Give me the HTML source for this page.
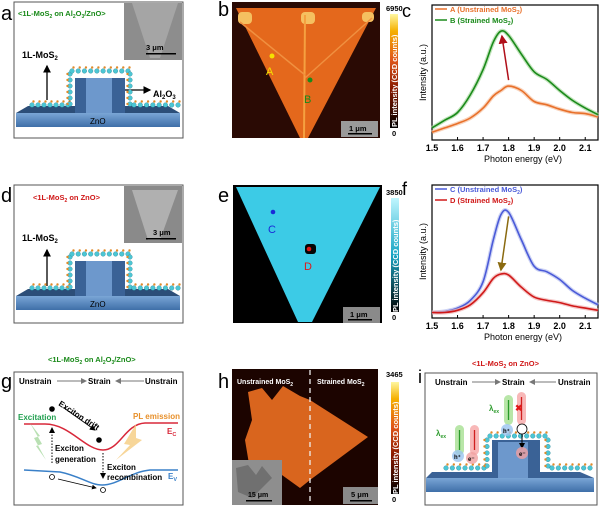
<!DOCTYPE html>
<html><head><meta charset="utf-8"><style>
body{margin:0;background:#fff}
svg{display:block;font-family:"Liberation Sans",Arial,sans-serif;font-weight:bold}
</style></head><body>
<svg id="fig" width="600" height="506" viewBox="0 0 600 506" xmlns="http://www.w3.org/2000/svg">
<defs>
<linearGradient id="cbHot" x1="0" y1="1" x2="0" y2="0"><stop offset="0" stop-color="#000"/><stop offset="0.35" stop-color="#8a1a00"/><stop offset="0.6" stop-color="#e0561a"/><stop offset="0.85" stop-color="#f5b000"/><stop offset="1" stop-color="#fff7a0"/></linearGradient>
<linearGradient id="cbCyan" x1="0" y1="1" x2="0" y2="0"><stop offset="0" stop-color="#000"/><stop offset="0.5" stop-color="#1aa6c4"/><stop offset="1" stop-color="#bff6ff"/></linearGradient>
<linearGradient id="slab" x1="0" y1="0" x2="0" y2="1"><stop offset="0" stop-color="#7aa6d6"/><stop offset="1" stop-color="#3f6fa8"/></linearGradient>
<marker id="arr" markerWidth="6" markerHeight="6" refX="5" refY="3" orient="auto"><path d="M0,0 L6,3 L0,6z" fill="#000"/></marker>
<marker id="arrg" markerWidth="6" markerHeight="6" refX="5" refY="3" orient="auto"><path d="M0,0 L6,3 L0,6z" fill="#777"/></marker>
<marker id="arrR" markerWidth="6" markerHeight="6" refX="5" refY="3" orient="auto"><path d="M0,0 L6,3 L0,6z" fill="#b0101a"/></marker>
<marker id="arrY" markerWidth="6" markerHeight="6" refX="5" refY="3" orient="auto"><path d="M0,0 L6,3 L0,6z" fill="#8a6a10"/></marker>
</defs>

<!-- Panel a -->
<text x="1" y="20" font-size="20" font-weight="normal">a</text>
<g>
<rect x="14" y="2" width="169" height="136" fill="#fff" stroke="#555" stroke-width="1"/>
<text x="18" y="16" font-size="7.5" fill="#1a8a1a">&lt;1L-MoS<tspan font-size="5" dy="2">2</tspan><tspan dy="-2"> on Al</tspan><tspan font-size="5" dy="2">2</tspan><tspan dy="-2">O</tspan><tspan font-size="5" dy="2">3</tspan><tspan dy="-2">/ZnO&gt;</tspan></text>
<rect x="124" y="3" width="58" height="57" fill="#8d8d8d"/>
<path d="M132,3 L178,3 L160,58 L150,58z" fill="#a5a5a5"/>
<text x="146" y="50" font-size="7.5">3 μm</text><rect x="146" y="53" width="30" height="1.5" fill="#000"/>
<text x="22" y="58" font-size="9">1L-MoS<tspan font-size="6" dy="2">2</tspan></text>
<line x1="47" y1="100" x2="47" y2="66" stroke="#000" stroke-width="1.3" marker-end="url(#arr)"/>
<text x="153" y="97" font-size="9">Al<tspan font-size="6" dy="2">2</tspan><tspan dy="-2">O</tspan><tspan font-size="6" dy="2">3</tspan></text>
<line x1="125" y1="90" x2="150" y2="90" stroke="#000" stroke-width="1.3" marker-end="url(#arr)"/>
<path d="M28,106 L168,106 L180,113 L16,113z" fill="#2c4e78"/>
<rect x="16" y="113" width="164" height="14" fill="url(#slab)"/>
<text x="90" y="124" font-size="8" font-weight="normal">ZnO</text>
<rect x="75" y="78" width="50" height="35" fill="#3a6296"/><rect x="86" y="78" width="26" height="35" fill="#6d98cc"/>
<g id="chainA"></g>
</g>

<!-- Panel b -->
<text x="218" y="16" font-size="20" font-weight="normal">b</text>
<g>
<rect x="232" y="2" width="148" height="136" fill="#2a0a04"/>
<path d="M236,8 L376,8 L308,138 L300,138z" fill="#e4681c"/>
<rect x="238" y="12" width="14" height="12" rx="4" fill="#f5c060"/><rect x="301" y="12" width="14" height="12" rx="4" fill="#f5c060"/><rect x="362" y="12" width="12" height="10" rx="4" fill="#f5c060"/>
<line x1="305" y1="15" x2="304" y2="138" stroke="#f5a040" stroke-width="2"/>
<line x1="240" y1="22" x2="305" y2="75" stroke="#f09040" stroke-width="1.5"/>
<line x1="372" y1="18" x2="305" y2="78" stroke="#f09040" stroke-width="1.5"/>
<circle cx="272" cy="56" r="2.5" fill="#f5e000"/><text x="266" y="75" font-size="11" fill="#f5e000" font-weight="normal">A</text>
<circle cx="310" cy="80" r="2.5" fill="#1a8a1a"/><text x="304" y="103" font-size="11" fill="#1a8a1a" font-weight="normal">B</text>
<rect x="341" y="121" width="37" height="16" fill="#9a9a9a"/><text x="349" y="131" font-size="7.5">1 μm</text><rect x="348" y="133" width="24" height="1.5" fill="#000"/>
</g>
<g>
<rect x="390" y="14" width="8" height="114" fill="url(#cbHot)"/>
<text x="386" y="11" font-size="7.5">6950</text><text x="392" y="136" font-size="7.5">0</text>
<text transform="translate(397,127) rotate(-90)" font-size="7.5" fill="#fff">PL intensity (CCD counts)</text>
</g>

<!-- Panel c -->
<text x="402" y="17" font-size="18" font-weight="normal">c</text>
<g id="chartC"></g>

<!-- Panel d -->
<text x="1" y="202" font-size="20" font-weight="normal">d</text>
<g>
<rect x="14" y="185" width="169" height="138" fill="#fff" stroke="#555" stroke-width="1"/>
<text x="33" y="200" font-size="7.5" fill="#d01818">&lt;1L-MoS<tspan font-size="5" dy="2">2</tspan><tspan dy="-2"> on ZnO&gt;</tspan></text>
<rect x="124" y="186" width="58" height="57" fill="#8a8a8a"/>
<path d="M132,190 L178,190 L160,240 L148,240z" fill="#b0b0b0"/>
<text x="153" y="235" font-size="7.5">3 μm</text><rect x="146" y="238" width="30" height="1.5" fill="#000"/>
<text x="22" y="241" font-size="9">1L-MoS<tspan font-size="6" dy="2">2</tspan></text>
<line x1="47" y1="286" x2="47" y2="250" stroke="#000" stroke-width="1.3" marker-end="url(#arr)"/>
<path d="M28,289 L168,289 L180,296 L16,296z" fill="#2c4e78"/>
<rect x="16" y="296" width="164" height="14" fill="url(#slab)"/>
<text x="90" y="307" font-size="8" font-weight="normal">ZnO</text>
<rect x="75" y="261" width="50" height="35" fill="#3a6296"/><rect x="86" y="261" width="26" height="35" fill="#6d98cc"/>
<g id="chainD"></g>
</g>

<!-- Panel e -->
<text x="218" y="202" font-size="20" font-weight="normal">e</text>
<g>
<rect x="233" y="185" width="149" height="138" fill="#000"/>
<path d="M236,187 L380,187 L312,322 L298,322z" fill="#3ccbe6"/>
<rect x="305" y="244" width="11" height="10" rx="3" fill="#050505"/>
<circle cx="273" cy="212" r="2.3" fill="#1a2ad8"/><text x="268" y="233" font-size="11" fill="#1a2ad8" font-weight="normal">C</text>
<circle cx="309" cy="249" r="2.3" fill="#e01818"/><text x="304" y="270" font-size="11" fill="#e01818" font-weight="normal">D</text>
<rect x="343" y="307" width="37" height="16" fill="#8a8a8a"/><text x="350" y="317" font-size="7.5">1 μm</text><rect x="348" y="319" width="24" height="1.5" fill="#000"/>
</g>
<g>
<rect x="391" y="198" width="8" height="114" fill="url(#cbCyan)"/>
<text x="386" y="195" font-size="7.5">3850</text><text x="392" y="320" font-size="7.5">0</text>
<text transform="translate(398,312) rotate(-90)" font-size="7.5" fill="#fff">PL intensity (CCD counts)</text>
</g>

<!-- Panel f -->
<text x="402" y="195" font-size="18" font-weight="normal">f</text>
<g id="chartF"></g>

<!-- Panel g -->
<text x="48" y="362" font-size="7.5" fill="#1a8a1a">&lt;1L-MoS<tspan font-size="5" dy="2">2</tspan><tspan dy="-2"> on Al</tspan><tspan font-size="5" dy="2">2</tspan><tspan dy="-2">O</tspan><tspan font-size="5" dy="2">3</tspan><tspan dy="-2">/ZnO&gt;</tspan></text>
<text x="1" y="388" font-size="20" font-weight="normal">g</text>
<g>
<rect x="14" y="372" width="169" height="133" fill="#fff" stroke="#555"/>
<text x="19" y="384" font-size="8">Unstrain</text><line x1="57" y1="381" x2="86" y2="381" stroke="#777" stroke-width="1" marker-end="url(#arrg)"/>
<text x="88" y="384" font-size="8">Strain</text><line x1="144" y1="381" x2="116" y2="381" stroke="#777" stroke-width="1" marker-end="url(#arrg)"/>
<text x="145" y="384" font-size="8">Unstrain</text>
<path d="M24,424 L45,424 C70,424 85,450 103,450 C120,450 125,424 145,423 L178,423" fill="none" stroke="#d8283a" stroke-width="1.5"/>
<text x="167" y="434" font-size="8" fill="#d8283a">E<tspan font-size="5.5" dy="2">C</tspan></text>
<path d="M24,470 L60,472 C80,476 90,485 102,485 C118,485 130,472 150,470 L178,470" fill="none" stroke="#3a80c8" stroke-width="1.5"/>
<text x="168" y="479" font-size="8" fill="#3a80c8">E<tspan font-size="5.5" dy="2">V</tspan></text>
<path d="M30,423 L40,436 L34,438 L46,460 L36,446 L42,444z" fill="#a8d8a0" opacity="0.8"/>
<path d="M136,424 L124,444 L130,445 L116,460 L142,440 L136,438z" fill="#f5cc80" opacity="0.8"/>
<text x="18" y="420" font-size="8" fill="#22a050">Excitation</text>
<text x="133" y="419" font-size="8" fill="#e8902a">PL emission</text>
<circle cx="52" cy="409" r="2.8" fill="#000"/><circle cx="99" cy="440" r="2.8" fill="#000"/>
<line x1="64" y1="408" x2="95" y2="430" stroke="#000" stroke-width="1" marker-end="url(#arr)"/>
<text transform="translate(58,405) rotate(33)" font-size="8">Exciton drift</text>
<line x1="52" y1="463" x2="52" y2="428" stroke="#000" stroke-dasharray="1.5,1.5" marker-end="url(#arr)"/>
<line x1="103" y1="453" x2="103" y2="478" stroke="#000" stroke-dasharray="1.5,1.5" marker-end="url(#arr)"/>
<text x="55" y="451" font-size="8">Exciton</text><text x="55" y="462" font-size="8">generation</text>
<text x="107" y="470" font-size="8">Exciton</text><text x="107" y="480" font-size="8">recombination</text>
<circle cx="52" cy="477" r="2.5" fill="#fff" stroke="#000" stroke-width="0.8"/><circle cx="103" cy="490" r="2.5" fill="#fff" stroke="#000" stroke-width="0.8"/>
<line x1="58" y1="479" x2="96" y2="488" stroke="#000" stroke-width="0.8" marker-end="url(#arr)"/>
</g>

<!-- Panel h -->
<text x="218" y="388" font-size="20" font-weight="normal">h</text>
<g>
<rect x="232" y="369" width="146" height="136" fill="#1c0400"/>
<path d="M248,392 L262,388 L272,400 L283,386 L300,396 L310,400 L368,437 L310,480 L300,488 L275,470 L262,482 L250,470 L245,440 L252,420z" fill="#d9651e"/>
<rect x="232" y="460" width="50" height="45" fill="#8e8e8e"/>
<path d="M236,468 L248,465 L256,475 L262,466 L272,478 L252,498 L238,492z" fill="#707070"/>
<text x="248" y="497" font-size="7" fill="#000">15 μm</text><rect x="246" y="500" width="26" height="1.5" fill="#000"/>
<line x1="310" y1="370" x2="310" y2="505" stroke="#eee" stroke-width="1.3" stroke-dasharray="5,4"/>
<text x="237" y="384" font-size="7" fill="#fff">Unstrained MoS<tspan font-size="5" dy="2">2</tspan></text>
<text x="317" y="384" font-size="7" fill="#fff">Strained MoS<tspan font-size="5" dy="2">2</tspan></text>
<rect x="343" y="487" width="35" height="17" fill="#8a8a8a"/><text x="351" y="497" font-size="7.5">5 μm</text><rect x="350" y="500" width="22" height="1.5" fill="#000"/>
</g>
<g>
<rect x="391" y="382" width="8" height="112" fill="url(#cbHot)"/>
<text x="386" y="377" font-size="7.5">3465</text><text x="392" y="502" font-size="7.5">0</text>
<text transform="translate(398,494) rotate(-90)" font-size="7.5" fill="#fff">PL intensity (CCD counts)</text>
</g>

<!-- Panel i -->
<text x="472" y="366" font-size="7.5" fill="#d01818">&lt;1L-MoS<tspan font-size="5" dy="2">2</tspan><tspan dy="-2"> on ZnO&gt;</tspan></text>
<text x="418" y="383" font-size="18" font-weight="normal">i</text>
<g>
<rect x="425" y="373" width="172" height="132" fill="#fff" stroke="#555"/>
<text x="435" y="385" font-size="8">Unstrain</text><line x1="472" y1="382" x2="500" y2="382" stroke="#777" marker-end="url(#arrg)"/>
<text x="502" y="385" font-size="8">Strain</text><line x1="556" y1="382" x2="530" y2="382" stroke="#777" marker-end="url(#arrg)"/>
<text x="558" y="385" font-size="8">Unstrain</text>
<path d="M432,472 L580,472 L594,478 L426,478z" fill="#3a6296"/>
<rect x="426" y="478" width="168" height="14" fill="url(#slab)"/>
<rect x="492" y="440" width="48" height="38" fill="#3a6296"/><rect x="498" y="442" width="30" height="36" fill="#6d98cc"/>
<g id="chainI"></g>
<rect x="455" y="425" width="9" height="30" rx="4.5" fill="#b8e6a8"/><line x1="459.5" y1="430" x2="459.5" y2="450" stroke="#2a9a2a" stroke-width="1.3"/>
<rect x="470" y="425" width="9" height="30" rx="4.5" fill="#f8b8b8"/><line x1="474.5" y1="450" x2="474.5" y2="430" stroke="#d02020" stroke-width="1.3"/>
<text x="436" y="436" font-size="8" fill="#2a9a2a">λ<tspan font-size="5" dy="2">ex</tspan></text>
<rect x="504" y="395" width="9" height="30" rx="4.5" fill="#b8e6a8"/><line x1="508.5" y1="400" x2="508.5" y2="420" stroke="#2a9a2a" stroke-width="1.3"/>
<rect x="517" y="392" width="9" height="33" rx="4.5" fill="#f8b8b8"/><line x1="521.5" y1="420" x2="521.5" y2="397" stroke="#d02020" stroke-width="1.3"/>
<text x="515" y="411" font-size="9" fill="#e01818">✖</text>
<text x="489" y="411" font-size="8" fill="#2a9a2a">λ<tspan font-size="5" dy="2">ex</tspan></text>
<circle cx="458" cy="456" r="6" fill="#9ac4f0" opacity="0.8"/><text x="454" y="459" font-size="6">h⁺</text>
<circle cx="472" cy="458" r="6" fill="#f0a0a0" opacity="0.8"/><text x="468" y="461" font-size="6">e⁻</text>
<circle cx="507" cy="430" r="6" fill="#9ac4f0" opacity="0.8"/><text x="503" y="433" font-size="6">h⁺</text>
<circle cx="522" cy="429" r="5" fill="#fff" stroke="#000" stroke-width="0.8"/>
<line x1="522" y1="434" x2="522" y2="448" stroke="#000" marker-end="url(#arr)"/>
<circle cx="522" cy="453" r="6" fill="#f0a0a0" opacity="0.8"/><text x="519" y="456" font-size="6">e⁻</text>
</g>
</svg>

<script>
// ---------- Chart data ----------
const energy = [1.50,1.55,1.60,1.65,1.70,1.74,1.77,1.80,1.85,1.90,1.95,2.00,2.05,2.10,2.15];
const seriesA = [7,11,15,20,29,40,45,49,45,35,32,28,25,24,21];
const seriesB = [11,18,25,41,64,89,99,95,78,62,55,45,36,29,23];
const seriesC = [5,6,9,16,33,71,94,96,71,47,42,35,25,18,12];
const seriesD = [5,5,7,12,23,36,40,39,28,19,16,14,11,9,7];
const xTicks = [1.5,1.6,1.7,1.8,1.9,2.0,2.1];
const xTickLabels = ["1.5","1.6","1.7","1.8","1.9","2.0","2.1"];

const NS = "http://www.w3.org/2000/svg";
function mk(tag, attrs, parent){
  const e = document.createElementNS(NS, tag);
  for (const k in attrs) e.setAttribute(k, attrs[k]);
  parent.appendChild(e); return e;
}
function smoothPath(pts){
  let d = "M" + pts[0][0] + "," + pts[0][1];
  for (let i=0;i<pts.length-1;i++){
    const p0 = pts[i-1]||pts[i], p1=pts[i], p2=pts[i+1], p3=pts[i+2]||p2;
    const c1x=p1[0]+(p2[0]-p0[0])/6, c1y=p1[1]+(p2[1]-p0[1])/6;
    const c2x=p2[0]-(p3[0]-p1[0])/6, c2y=p2[1]-(p3[1]-p1[1])/6;
    d += " C"+c1x+","+c1y+" "+c2x+","+c2y+" "+p2[0]+","+p2[1];
  }
  return d;
}
function drawChart(g, top, bottom, s1, c1, lite1, lab1, s2, c2, lite2, lab2, arrow){
  const L=432, R=598;
  const xs = v => L + (v-1.5)/(2.15-1.5)*(R-L);
  const ys = v => bottom - v*1.1;
  mk("rect",{x:L,y:top,width:R-L,height:bottom-top,fill:"none",stroke:"#000","stroke-width":1.2},g);
  xTicks.forEach((t,i)=>{
    const tk = mk("line",{x1:xs(t),x2:xs(t),y1:bottom,y2:bottom-3,stroke:"#000"},g);
    
    
    const tl = mk("text",{x:xs(t),y:bottom+11,"font-size":9,"text-anchor":"middle"},g);
    
    
    tl.textContent = xTickLabels[i];
  });
  const xl = mk("text",{x:(L+R)/2+8,y:bottom+22,"font-size":9,"text-anchor":"middle","font-weight":"normal"},g);
  
  
  xl.textContent = "Photon energy (eV)";
  const yl = mk("text",{transform:"translate(426,"+((top+bottom)/2)+") rotate(-90)","font-size":9,"text-anchor":"middle","font-weight":"normal"},g);
  
  
  yl.textContent = "Intensity (a.u.)";
  [[s1,c1,lite1,lab1],[s2,c2,lite2,lab2]].forEach((s,k)=>{
    const pts = energy.map((e,i)=>[xs(e), ys(s[0][i])]);
    const raw = mk("path",{d:smoothPath(pts),fill:"none",stroke:s[2],"stroke-width":4,opacity:0.7},g);
    
    
    const ln = mk("path",{d:smoothPath(pts),fill:"none",stroke:s[1],"stroke-width":1.6},g);
    
    
    const ly = top + 7 + k*11;
    const le = mk("line",{x1:L+3,x2:L+15,y1:ly-3,y2:ly-3,stroke:s[1],"stroke-width":1.5},g);
    
    
    const lt = mk("text",{x:L+18,y:ly,"font-size":7.5,fill:s[1]},g);
    
    
    lt.appendChild(document.createTextNode(s[3] + " MoS"));
    const sub = mk("tspan",{"font-size":5,dy:2},lt);
    sub.textContent = "2";
    const cl = mk("tspan",{dy:-2},lt);
    cl.textContent = ")";
  });
  const iFrom = arrow.fromSeries.indexOf(Math.max(...arrow.fromSeries));
  const iTo = arrow.toSeries.indexOf(Math.max(...arrow.toSeries));
  const a = mk("line",{x1:xs(energy[iFrom]),y1:ys(arrow.fromSeries[iFrom])+(arrow.down?4:-6),x2:xs(energy[iTo])+(arrow.down?0:1),y2:ys(arrow.toSeries[iTo])+(arrow.down?-4:5),stroke:arrow.color,"stroke-width":1.5,"marker-end":arrow.marker},g);
  
  
}
drawChart(document.getElementById("chartC"),5,140,
  seriesA,"#e8702a","#f5c0a0","A (Unstrained",
  seriesB,"#1a8a1a","#a8d8a0","B (Strained",
  {fromSeries:seriesA,toSeries:seriesB,color:"#b0101a",marker:"url(#arrR)",down:false});
drawChart(document.getElementById("chartF"),185,318,
  seriesC,"#4a5ad8","#b8c0f0","C (Unstrained",
  seriesD,"#d01818","#f0b0b0","D (Strained",
  {fromSeries:seriesC,toSeries:seriesD,color:"#8a6a10",marker:"url(#arrY)",down:true});

// MoS2 chains (decorative)
function chain(id, segs){
  const g = document.getElementById(id);
  segs.forEach(s=>{
    const [x1,y1,x2,y2]=s; const n=Math.max(1,Math.round(Math.hypot(x2-x1,y2-y1)/6));
    for(let i=0;i<=n;i++){
      const x=x1+(x2-x1)*i/n, y=y1+(y2-y1)*i/n;
      mk("circle",{cx:x,cy:y,r:2.3,fill:"#4cc6d4",stroke:"#2a8a9a","stroke-width":0.4},g);
      mk("circle",{cx:x+(y1===y2?1.5:-2.5),cy:y+(y1===y2?-3.5:0),r:1.2,fill:"#e08a2a"},g);
    }
  });
}
chain("chainA",[[32,105,68,105],[70,104,70,74],[72,71,128,71],[130,74,130,104],[134,105,178,105]]);
chain("chainD",[[32,288,68,288],[70,287,70,257],[72,254,128,254],[130,257,130,287],[134,288,178,288]]);
chain("chainI",[[446,468,484,468],[487,466,487,440],[490,436,545,436],[548,440,548,466],[552,468,590,468]]);
</script>
</body></html>
